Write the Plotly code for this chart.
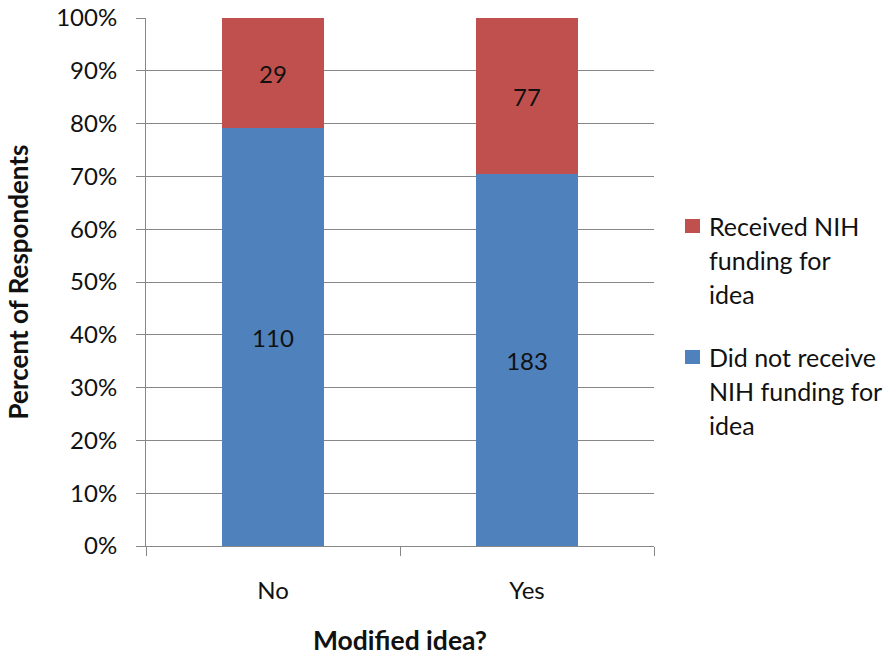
import plotly.graph_objects as go

categories = ["No", "Yes"]
did_not_receive = [110, 183]
received = [29, 77]
series_names = ["Did not receive NIH funding for idea", "Received NIH funding for idea"]
legend_lines = {
    "Received NIH funding for idea": ["Received NIH", "funding for", "idea"],
    "Did not receive NIH funding for idea": ["Did not receive", "NIH funding for", "idea"],
}
colors = {"Did not receive NIH funding for idea": "#4F81BD", "Received NIH funding for idea": "#C0504D"}

FONT = "Lato"
W, H = 885, 656
ML, MR, MT, MB = 146, 231, 18, 110
PW, PH = W - ML - MR, H - MT - MB

fig = go.Figure()
for name, vals in [(series_names[0], did_not_receive), (series_names[1], received)]:
    fig.add_trace(go.Bar(
        x=categories, y=vals, name=name, text=[str(v) for v in vals],
        textposition="inside", insidetextanchor="middle",
        textfont=dict(family=FONT, size=24, color="#111"),
        marker=dict(color=colors[name], line=dict(width=0)),
        width=0.4, showlegend=False, hoverinfo="skip",
    ))

# custom legend (multi-line entries)
def px_to_paper(px, py):
    return (px - ML) / PW, (H - MB - py) / PH

annotations = []
shapes = []
entries = [("Received NIH funding for idea", 226), ("Did not receive NIH funding for idea", 357)]
for name, y0 in entries:
    sx0, sy0 = px_to_paper(685, y0 - 7)
    sx1, sy1 = px_to_paper(700, y0 + 7)
    shapes.append(dict(type="rect", xref="paper", yref="paper", x0=sx0, x1=sx1, y0=sy1, y1=sy0,
                       fillcolor=colors[name], line=dict(width=0)))
    for i, line in enumerate(legend_lines[name]):
        ax, ay = px_to_paper(707, y0 + i * 34)
        annotations.append(dict(text=line, xref="paper", yref="paper", x=ax, y=ay,
                                xanchor="left", yanchor="middle", showarrow=False,
                                font=dict(family=FONT, size=25, color="#111")))

fig.update_layout(
    width=W, height=H,
    margin=dict(l=ML, r=MR, t=MT, b=MB, autoexpand=False),
    barmode="stack", barnorm="percent",
    plot_bgcolor="white", paper_bgcolor="white",
    font=dict(family=FONT, size=24, color="#111"),
    shapes=shapes, annotations=annotations,
    xaxis=dict(
        tickson="boundaries", ticks="outside", ticklen=9, tickcolor="#878787",
        showline=True, linecolor="#878787", linewidth=1, showgrid=False,
        ticklabelstandoff=23,
        title=dict(text="<b>Modified idea?</b>", font=dict(family=FONT, size=26.5, color="#111"), standoff=30),
    ),
    yaxis=dict(
        range=[0, 100], dtick=10, ticksuffix="%", ticks="outside", ticklen=9, tickcolor="#878787",
        showline=True, linecolor="#878787", linewidth=1,
        showgrid=True, gridcolor="#878787", gridwidth=1, zeroline=False,
        ticklabelstandoff=14,
        title=dict(text="<b>Percent of Respondents</b>", font=dict(family=FONT, size=26, color="#111"), standoff=20),
    ),
)

fig.write_html("out.html")
